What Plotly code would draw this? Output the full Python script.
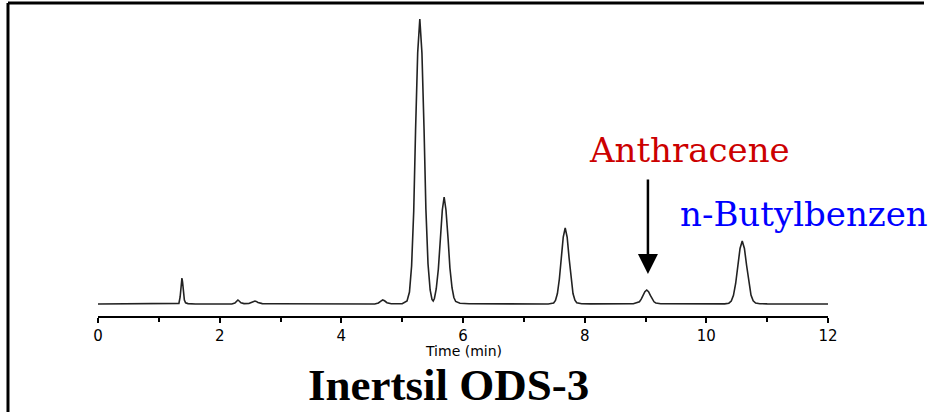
import plotly.graph_objects as go

# Chromatogram trace (time in min, detector signal in arbitrary units)
time_min = [0.0, 1.30, 1.33, 1.35, 1.36, 1.37, 1.38, 1.39, 1.40, 1.41, 1.42, 1.44, 1.48, 1.60,
            2.20, 2.25, 2.28, 2.30, 2.32, 2.35, 2.40, 2.48, 2.53, 2.56, 2.58, 2.60, 2.63, 2.70, 2.90,
            4.55, 4.61, 4.65, 4.68, 4.71, 4.75, 4.82, 5.00,
            5.08, 5.12, 5.155, 5.19, 5.22, 5.255, 5.29, 5.325, 5.36, 5.39, 5.425, 5.46, 5.49, 5.51,
            5.53, 5.56, 5.595, 5.625, 5.66, 5.69, 5.72, 5.755, 5.785, 5.82, 5.85, 5.88, 5.95, 6.10,
            7.40, 7.49, 7.52, 7.552, 7.584, 7.616, 7.648, 7.68, 7.712, 7.744, 7.776, 7.808, 7.84, 7.87, 7.95, 8.10,
            8.80, 8.87, 8.90, 8.93, 8.96, 8.99, 9.02, 9.05, 9.08, 9.11, 9.14, 9.17, 9.25,
            10.30, 10.37, 10.41, 10.446, 10.482, 10.518, 10.554, 10.59, 10.626, 10.662, 10.698, 10.734, 10.77,
            10.81, 10.88, 11.00, 12.0]
signal = [0, 0, 0.6, 7, 15, 23, 26, 22, 15, 8.5, 4, 1.2, 0.4, 0,
          0, 1, 3, 4, 3, 1.2, 0.4, 0.5, 1.8, 2.8, 3, 2.6, 1.5, 0.4, 0.2,
          0, 1, 2.8, 4, 3.2, 1.3, 0.3, 0.2,
          3, 12, 38, 93, 173, 251, 285, 251, 174, 95, 40, 14, 4.5, 3,
          5.5, 15, 35, 65, 94, 107, 94, 65, 36, 16, 6.5, 2.5, 0.8, 0.2,
          0, 1, 3.5, 10.5, 25, 46, 67, 76, 67, 46, 25, 10.5, 3.8, 1.3, 0.3, 0.1,
          0.3, 1.2, 2.3, 4.8, 8.6, 12.3, 14, 12.3, 8.6, 4.8, 2.2, 1, 0.3,
          0.1, 0.8, 3, 8.6, 20.5, 38.2, 55.6, 63, 55.6, 38.5, 21, 9, 3.2,
          1, 0.3, 0.1, 0]

x_ticks = [0, 2, 4, 6, 8, 10, 12]
x_title = "Time (min)"
column_name = "Inertsil ODS-3"
label_anthracene = "Anthracene"
label_butyl = "n-Butylbenzen"
anthracene_rt = 9.04

fig = go.Figure()
fig.add_trace(go.Scatter(x=time_min, y=signal, mode="lines",
                         line=dict(color="#222222", width=1.6), hoverinfo="skip"))

fig.update_layout(
    width=932, height=412,
    margin=dict(l=98, r=104, t=10, b=96),
    paper_bgcolor="white", plot_bgcolor="white",
    showlegend=False,
    xaxis=dict(range=[0, 12], tickvals=x_ticks, ticktext=[str(v) for v in x_ticks],
               showgrid=False, zeroline=False, showline=True, linecolor="black", linewidth=1.5,
               ticks="outside", ticklen=5, tickwidth=1.5, tickcolor="black",
               minor=dict(dtick=1, tick0=0, ticks="outside", ticklen=4, tickwidth=1.5, tickcolor="black"),
               tickfont=dict(family="DejaVu Sans", size=15, color="black")),
    yaxis=dict(range=[-12, 294], visible=False, fixedrange=True),
)

# frame lines (top and left)
fig.add_shape(type="line", xref="paper", yref="paper", x0=-0.1233, x1=1.1315, y0=1.0229, y1=1.0229,
              line=dict(color="black", width=3))
fig.add_shape(type="line", xref="paper", yref="paper", x0=-0.1233, x1=-0.1233, y0=1.0229, y1=-0.32,
              line=dict(color="black", width=3))

# x-axis title
fig.add_annotation(x=0.5, y=-0.113, xref="paper", yref="paper", xanchor="center", yanchor="middle",
                   text=x_title, showarrow=False,
                   font=dict(family="DejaVu Sans", size=14, color="black"))

fig.add_annotation(x=9.72, y=154, xref="x", yref="y", text=label_anthracene, showarrow=False,
                   font=dict(family="DejaVu Serif", size=34, color="#cc0000"))
fig.add_annotation(x=11.61, y=90, xref="x", yref="y", text=label_butyl, showarrow=False,
                   font=dict(family="DejaVu Serif", size=34, color="#0000ff"))
fig.add_annotation(x=anthracene_rt, y=30, xref="x", yref="y", ax=0, ay=-96, text="",
                   showarrow=True, arrowhead=2, arrowsize=1.6, arrowwidth=2.5, arrowcolor="black")
fig.add_annotation(x=0.4808, y=-0.226, xref="paper", yref="paper", xanchor="center", yanchor="middle",
                   text="<b>" + column_name + "</b>", showarrow=False,
                   font=dict(family="Liberation Serif", size=45, color="black"))

fig.write_html("out.html")
